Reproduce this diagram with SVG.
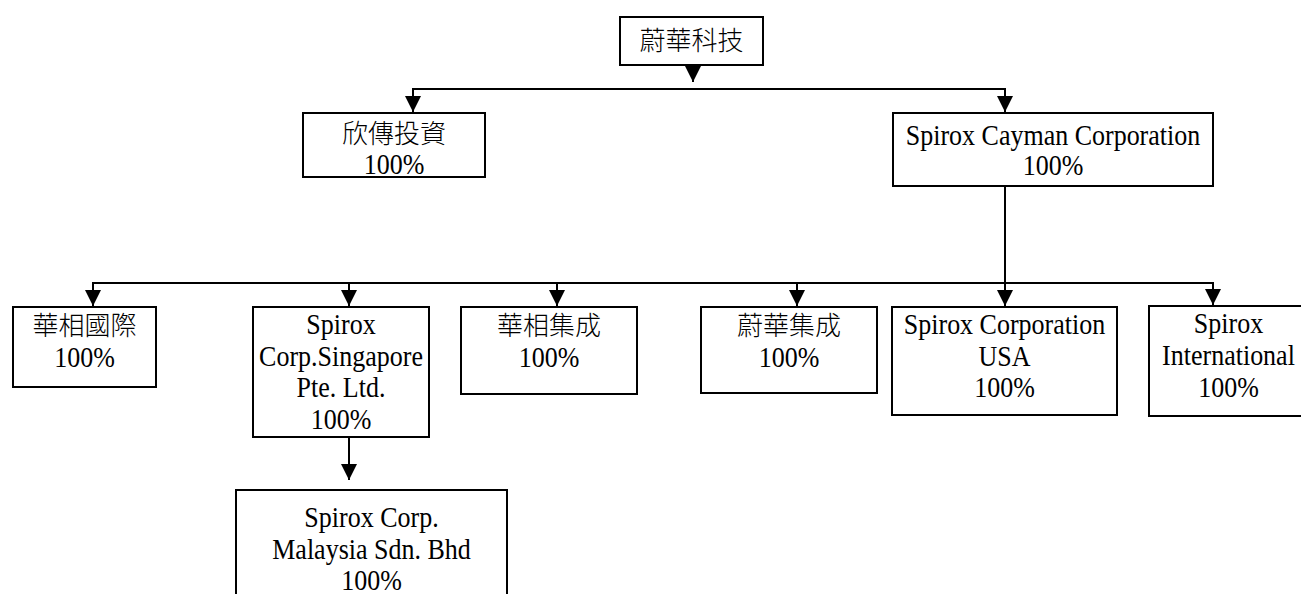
<svg xmlns="http://www.w3.org/2000/svg" width="1301" height="594" viewBox="0 0 1301 594">
<style>
.box{fill:#fff;stroke:#000;stroke-width:2}
.t{font-family:'Liberation Serif','Noto Sans CJK TC',serif;font-size:26px;fill:#000;text-anchor:middle}
.k{font-weight:300}
.c{fill:none;stroke:#000;stroke-width:2;marker-end:url(#ah)}
</style>
<defs>
<marker id="ah" markerUnits="userSpaceOnUse" markerWidth="16" markerHeight="16" viewBox="0 0 16 16" refX="16" refY="8" orient="auto">
<path d="M0,0 L16,8 L0,16 z" fill="#000"/>
</marker>
</defs>
<rect width="1301" height="594" fill="#fff"/>
<g id="connectors">
<path class="c" d="M693,65 V82"/>
<path class="c" d="M693,89 H413 V112"/>
<path class="c" d="M693,89 H1005 V112"/>
<path class="c" d="M1005,186 V306"/>
<path class="c" d="M1005,283 H93 V306"/>
<path class="c" d="M349,283 V306"/>
<path class="c" d="M557,283 V306"/>
<path class="c" d="M797,283 V306"/>
<path class="c" d="M1005,283 H1213 V305"/>
<path class="c" d="M349,437 V480"/>
</g>
<g id="n-root">
<rect class="box" x="620" y="17" width="143" height="48"/>
<text class="t k" x="691.5" y="50">蔚華科技</text>
</g>
<g id="n-xinchuan">
<rect class="box" x="303" y="113" width="182" height="64"/>
<text class="t k" x="394" y="143">欣傳投資</text>
<text class="t" transform="translate(394 174) scale(1 1.15)">100%</text>
</g>
<g id="n-cayman">
<rect class="box" x="893" y="113" width="320" height="73"/>
<text class="t" transform="translate(1053 145) scale(1 1.15)">Spirox Cayman Corporation</text>
<text class="t" transform="translate(1053 175) scale(1 1.15)">100%</text>
</g>
<g id="n-huaxiang-intl">
<rect class="box" x="13" y="307" width="143" height="80"/>
<text class="t k" x="84.5" y="335">華相國際</text>
<text class="t" transform="translate(84.5 367) scale(1 1.15)">100%</text>
</g>
<g id="n-singapore">
<rect class="box" x="253" y="307" width="176" height="130"/>
<text class="t" transform="translate(341 334) scale(1 1.15)">Spirox</text>
<text class="t" transform="translate(341 366) scale(1 1.15)">Corp.Singapore</text>
<text class="t" transform="translate(341 397) scale(1 1.15)">Pte. Ltd.</text>
<text class="t" transform="translate(341 429) scale(1 1.15)">100%</text>
</g>
<g id="n-huaxiang-jc">
<rect class="box" x="461" y="307" width="176" height="87"/>
<text class="t k" x="549" y="335">華相集成</text>
<text class="t" transform="translate(549 367) scale(1 1.15)">100%</text>
</g>
<g id="n-weihua-jc">
<rect class="box" x="701" y="307" width="176" height="86"/>
<text class="t k" x="789" y="335">蔚華集成</text>
<text class="t" transform="translate(789 367) scale(1 1.15)">100%</text>
</g>
<g id="n-usa">
<rect class="box" x="892" y="307" width="225" height="108"/>
<text class="t" transform="translate(1004.5 334) scale(1 1.15)">Spirox Corporation</text>
<text class="t" transform="translate(1004.5 366) scale(1 1.15)">USA</text>
<text class="t" transform="translate(1004.5 397) scale(1 1.15)">100%</text>
</g>
<g id="n-intl">
<rect class="box" x="1149" y="306" width="162" height="110"/>
<text class="t" transform="translate(1228.5 333) scale(1 1.15)">Spirox</text>
<text class="t" transform="translate(1228.5 365) scale(1 1.15)">International</text>
<text class="t" transform="translate(1228.5 397) scale(1 1.15)">100%</text>
</g>
<g id="n-malaysia">
<rect class="box" x="236" y="490" width="271" height="120"/>
<text class="t" transform="translate(371.5 527) scale(1 1.15)">Spirox Corp.</text>
<text class="t" transform="translate(371.5 559) scale(1 1.15)">Malaysia Sdn. Bhd</text>
<text class="t" transform="translate(371.5 590) scale(1 1.15)">100%</text>
</g>
</svg>
